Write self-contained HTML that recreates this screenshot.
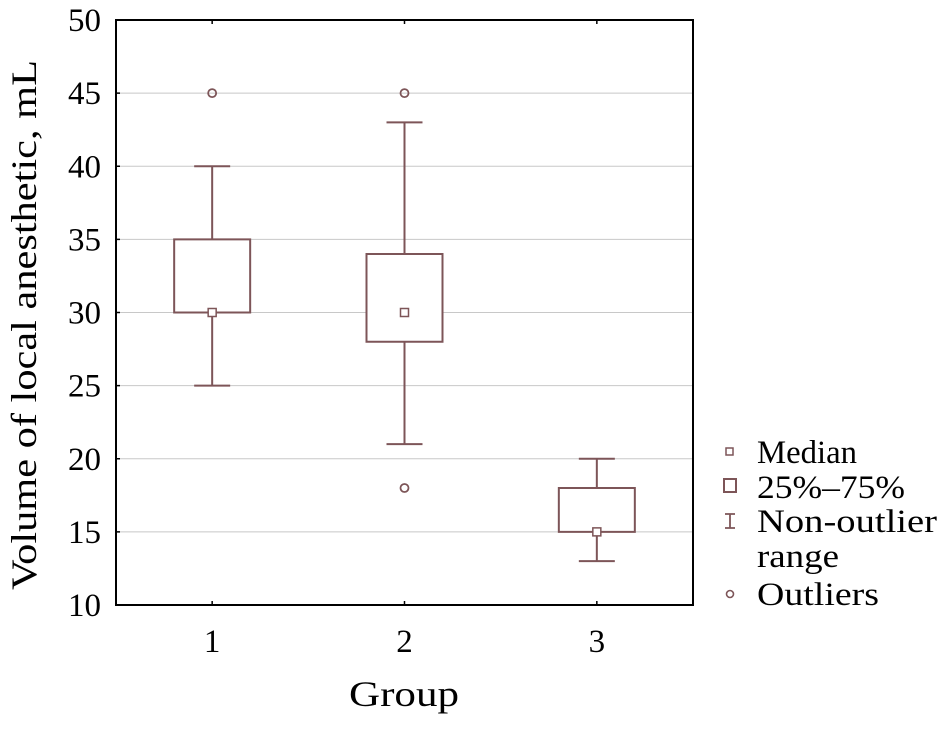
<!DOCTYPE html>
<html><head><meta charset="utf-8"><style>
body{margin:0;background:#fff}
text{font-family:"Liberation Serif",serif;fill:#000}
</style></head><body>
<svg id="chart" width="937" height="726" xmlns="http://www.w3.org/2000/svg"></svg>
<script>
const categories=["1","2","3"];
const q1=[30,28,15];
const q3=[35,34,18];
const medians=[30,30,15];
const whiskerLow=[25,21,13];
const whiskerHigh=[40,43,20];
const outliers=[[45],[45,18],[]];
const yTicks=[10,15,20,25,30,35,40,45,50];

const NS="http://www.w3.org/2000/svg";
const svg=document.getElementById('chart');
const L=116,R=693,T=20,B=605,C="#7d5558";
const y=v=>B-(v-10)/(50-10)*(B-T);
const x=i=>L+(R-L)*(i+0.5)/categories.length;
function el(tag,attrs,parent){const e=document.createElementNS(NS,tag);for(const k in attrs)e.setAttribute(k,attrs[k]);(parent||svg).appendChild(e);return e;}

yTicks.forEach(t=>{
  if(t>10&&t<50){const g=el('line',{x1:L,x2:R,y1:y(t),y2:y(t),stroke:'#c8c8c8','stroke-width':1});
  
  }
  const tk=el('line',{x1:L,x2:L+4,y1:y(t),y2:y(t),stroke:'#000','stroke-width':1.5});
  
  
  const tx=el('text',{x:L-15,y:y(t)+11,'text-anchor':'end','font-size':33});
  tx.textContent=t;
  
  
});
categories.forEach((c,i)=>{
  const cx=x(i);
  [[B,B-4],[T,T+4]].forEach(p=>{const tk=el('line',{x1:cx,x2:cx,y1:p[0],y2:p[1],stroke:'#000','stroke-width':1.5});
  
  });
  const tx=el('text',{x:cx,y:652,'text-anchor':'middle','font-size':33});
  tx.textContent=c;
  
  
  const g=el('g',{stroke:C,'stroke-width':2,fill:'none'});
  
  
  el('line',{x1:cx,x2:cx,y1:y(q3[i]),y2:y(whiskerHigh[i])},g);
  el('line',{x1:cx,x2:cx,y1:y(q1[i]),y2:y(whiskerLow[i])},g);
  el('line',{x1:cx-18,x2:cx+18,y1:y(whiskerHigh[i]),y2:y(whiskerHigh[i])},g);
  el('line',{x1:cx-18,x2:cx+18,y1:y(whiskerLow[i]),y2:y(whiskerLow[i])},g);
  const bx=el('rect',{x:cx-38,width:76,y:y(q3[i]),height:y(q1[i])-y(q3[i]),fill:'#fff'},g);
  
  
  const m=el('rect',{x:cx-4,y:y(medians[i])-4,width:8,height:8,fill:'#fff','stroke-width':1.5},g);
  
  
  outliers[i].forEach(o=>{const ci=el('circle',{cx:cx,cy:y(o),r:4,'stroke-width':1.8},g);
  
  });
});
const fr=el('rect',{x:L,y:T,width:R-L,height:B-T,fill:'none',stroke:'#000','stroke-width':2});


const xt=el('text',{x:404,y:706,'text-anchor':'middle','font-size':36,textLength:110,lengthAdjust:'spacingAndGlyphs'});
xt.textContent='Group';


const yt=el('text',{x:0,y:0,'text-anchor':'middle','font-size':36,textLength:530,lengthAdjust:'spacingAndGlyphs',transform:'translate(36,325) rotate(-90)'});
yt.textContent='Volume of local anesthetic, mL';


// legend
const lg=el('g',{});


const items=[['Median',452,100],['25%–75%',487,148],['Non-outlier',521,180],['range',556,82],['Outliers',594,122]];
items.forEach(it=>{const t=el('text',{x:757,y:it[1]+11,'font-size':33,textLength:it[2],lengthAdjust:'spacingAndGlyphs'},lg);t.textContent=it[0];

});
el('rect',{x:726,y:448,width:7,height:7,fill:'none',stroke:C,'stroke-width':1.5},lg);
el('rect',{x:724,y:479,width:12,height:13,fill:'none',stroke:C,'stroke-width':2},lg);
el('path',{d:'M725 514h10M725 528h10M730 514v14',fill:'none',stroke:C,'stroke-width':1.8},lg);
el('circle',{cx:730,cy:594,r:3.5,fill:'none',stroke:C,'stroke-width':1.6},lg);
</script>
</body></html>
